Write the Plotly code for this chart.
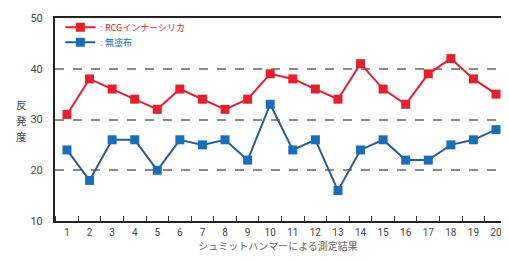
import plotly.graph_objects as go

x_labels = list(range(1, 21))
rcg_values = [31, 38, 36, 34, 32, 36, 34, 32, 34, 39, 38, 36, 34, 41, 36, 33, 39, 42, 38, 35]
plain_values = [24, 18, 26, 26, 20, 26, 25, 26, 22, 33, 24, 26, 16, 24, 26, 22, 22, 25, 26, 28]
y_ticks = [10, 20, 30, 40, 50]
series_names = ["RCGインナーシリカ", "無塗布"]
y_title = "反発度"

RED = "#e3202c"
BLUE_M = "#1a6db8"
BLUE_L = "#2b5c8f"
FONT = "Noto Sans CJK JP"

fig = go.Figure()
fig.add_trace(go.Scatter(
    x=x_labels, y=rcg_values, mode="lines+markers", cliponaxis=False,
    name=f"<span style='color:#999'>:</span> <span style='color:{RED}'>{series_names[0]}</span>",
    line=dict(color=RED, width=2),
    marker=dict(symbol="square", size=9, color=RED),
    legend="legend",
))
fig.add_trace(go.Scatter(
    x=x_labels, y=plain_values, mode="lines+markers", cliponaxis=False,
    name=f"<span style='color:#999'>:</span> <span style='color:{BLUE_M}'>{series_names[1]}</span>",
    line=dict(color=BLUE_L, width=2),
    marker=dict(symbol="square", size=9, color=BLUE_M),
    legend="legend2",
))

leg_common = dict(x=0.012, xanchor="left", yanchor="middle",
                  bgcolor="rgba(0,0,0,0)", itemwidth=30,
                  font=dict(size=9, family=FONT))

# page body adds an 8px offset, so the figure is sized to fit the 509x260 window
fig.update_layout(
    width=501, height=252,
    margin=dict(l=47, r=8, t=5, b=39),
    paper_bgcolor="white", plot_bgcolor="white",
    font=dict(family=FONT, size=10, color="#444"),
    legend=dict(y=0.955, **leg_common),
    legend2=dict(y=0.88, **leg_common),
    xaxis=dict(
        range=[0.47, 20.22], tickmode="array", tickvals=x_labels,
        ticktext=[str(v) for v in x_labels], showgrid=False, zeroline=False,
        showline=True, linecolor="#222", linewidth=2, mirror=True,
        ticks="", ticklabelstandoff=1, ticklabeloverflow="allow",
        tickfont=dict(family="Liberation Sans Narrow, Roboto", size=10, color="#444"),
        minor=dict(tickmode="linear", tick0=0.5, dtick=1, ticks="inside",
                   ticklen=5, tickcolor="#333", tickwidth=1, showgrid=False),
        title=dict(text="シュミットハンマーによる測定結果", standoff=4,
                   font=dict(size=10, color="#666", family=FONT)),
    ),
    yaxis=dict(
        range=[10, 50], tickmode="array", tickvals=y_ticks,
        showgrid=True, gridcolor="#8a8a8a", gridwidth=1.5, griddash="dash",
        zeroline=False, showline=True, linecolor="#222", linewidth=2, mirror=True,
        ticks="", ticklabelstandoff=8,
        tickfont=dict(family="Liberation Sans Narrow, Roboto", size=11, color="#444"),
    ),
    showlegend=True,
)

for ch, yy in zip(y_title, [0.574, 0.495, 0.416]):
    fig.add_annotation(
        text=ch, xref="paper", yref="paper", x=-0.074, y=yy,
        xanchor="center", yanchor="middle", showarrow=False,
        font=dict(size=10.5, color="#444", family=FONT),
    )

fig.write_html("out.html")
